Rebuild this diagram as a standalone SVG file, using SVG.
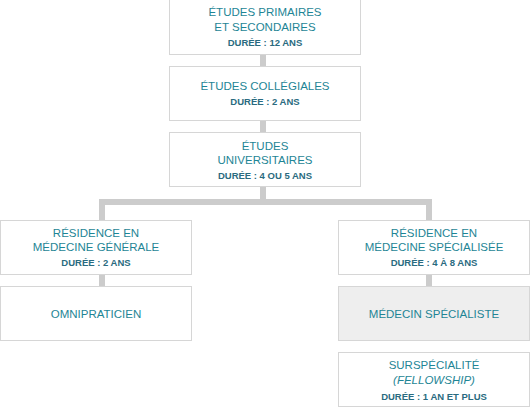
<svg xmlns="http://www.w3.org/2000/svg" width="530" height="408" viewBox="0 0 530 408">
<style>
.box{fill:#ffffff;stroke:#d6d6d6;stroke-width:1}
.hl{fill:#eeeeee}
.t{font-family:"Liberation Sans",Arial,sans-serif;font-size:11.5px;fill:#1e8595;text-anchor:middle}
.d{font-family:"Liberation Sans",Arial,sans-serif;font-size:9.5px;font-weight:bold;fill:#2a6b80;text-anchor:middle}
.i{font-style:italic}
.c{fill:#cccccc}
</style>
<rect width="530" height="408" fill="#ffffff"/>
<g id="connectors">
<rect class="c" x="260" y="55" width="6" height="11"/>
<rect class="c" x="260" y="121" width="6" height="11"/>
<rect class="c" x="260" y="187" width="6" height="13"/>
<rect class="c" x="99" y="199" width="333" height="6"/>
<rect class="c" x="99" y="199" width="6" height="21"/>
<rect class="c" x="426" y="199" width="6" height="21"/>
<rect class="c" x="99" y="275" width="6" height="11"/>
<rect class="c" x="426" y="275" width="6" height="11"/>
</g>
<g id="n1">
<rect class="box" x="169.5" y="-0.5" width="191" height="55"/>
<text class="t" x="265" y="16">ÉTUDES PRIMAIRES</text>
<text class="t" x="265" y="30.5">ET SECONDAIRES</text>
<text class="d" x="265" y="46">DURÉE : 12 ANS</text>
</g>
<g id="n2">
<rect class="box" x="169.5" y="66.5" width="191" height="54"/>
<text class="t" x="265" y="90">ÉTUDES COLLÉGIALES</text>
<text class="d" x="265" y="104.5">DURÉE : 2 ANS</text>
</g>
<g id="n3">
<rect class="box" x="169.5" y="132.5" width="191" height="54"/>
<text class="t" x="265" y="150">ÉTUDES</text>
<text class="t" x="265" y="163.5">UNIVERSITAIRES</text>
<text class="d" x="265" y="179">DURÉE : 4 OU 5 ANS</text>
</g>
<g id="n4">
<rect class="box" x="0.5" y="220.5" width="191" height="54"/>
<text class="t" x="96" y="237">RÉSIDENCE EN</text>
<text class="t" x="96" y="251">MÉDECINE GÉNÉRALE</text>
<text class="d" x="96" y="266">DURÉE : 2 ANS</text>
</g>
<g id="n5">
<rect class="box" x="338.5" y="220.5" width="191" height="54"/>
<text class="t" x="434" y="237">RÉSIDENCE EN</text>
<text class="t" x="434" y="251">MÉDECINE SPÉCIALISÉE</text>
<text class="d" x="434" y="266">DURÉE : 4 À 8 ANS</text>
</g>
<g id="n6">
<rect class="box" x="0.5" y="286.5" width="191" height="54"/>
<text class="t" x="96" y="317.5">OMNIPRATICIEN</text>
</g>
<g id="n7">
<rect class="box hl" x="338.5" y="286.5" width="191" height="54"/>
<text class="t" x="434" y="317.5">MÉDECIN SPÉCIALISTE</text>
</g>
<g id="n8">
<rect class="box" x="338.5" y="352.5" width="191" height="54"/>
<text class="t" x="434" y="369">SURSPÉCIALITÉ</text>
<text class="t i" x="434" y="383.5">(FELLOWSHIP)</text>
<text class="d" x="434" y="399.5">DURÉE : 1 AN ET PLUS</text>
</g>
</svg>
